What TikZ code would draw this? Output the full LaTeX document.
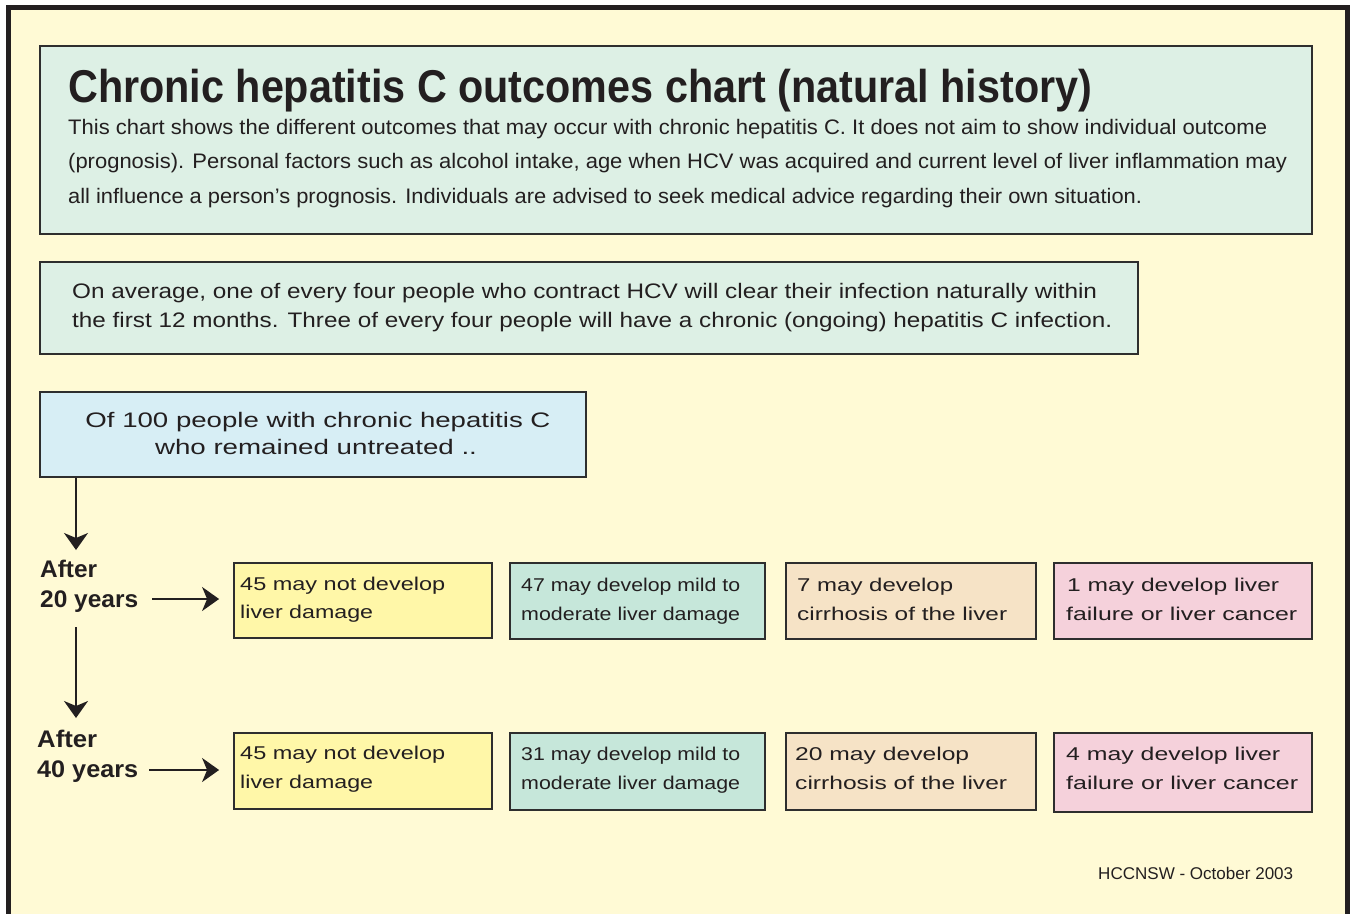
\documentclass[tikz,border=0pt]{standalone}
\usepackage{fontspec}
\setmainfont{Liberation Sans}
\usepackage{graphicx}
\usetikzlibrary{arrows.meta}
\definecolor{bgy}{HTML}{FFFAD5}
\definecolor{mint}{HTML}{DDF0E5}
\definecolor{lblue}{HTML}{D7EEF5}
\definecolor{oyel}{HTML}{FFF7A8}
\definecolor{ogrn}{HTML}{C6E7DA}
\definecolor{otan}{HTML}{F6E3C6}
\definecolor{opnk}{HTML}{F5D1DB}
\definecolor{txtc}{HTML}{231F20}
\definecolor{bordc}{HTML}{2E2E2E}
\newsavebox\fitbox
\newdimen\fitlen
\newcommand\fitto[2]{\sbox\fitbox{#2}\fitlen=\wd\fitbox\pgfmathsetmacro\fitr{#1/\fitlen}\scalebox{\fitr}[1]{\usebox\fitbox}}
\tikzset{
  boxs/.style={draw=bordc, line width=1.8pt, rectangle, inner sep=0pt},
  tl/.style={inner sep=0pt, anchor=base west, text=txtc},
  tc/.style={inner sep=0pt, anchor=base, text=txtc},
  bodyf/.style={font=\fontsize{21}{25}\selectfont},
  outf/.style={font=\fontsize{18.5}{22}\selectfont},
  lblf/.style={font=\fontsize{24}{28}\selectfont\bfseries},
  arr/.style={draw=txtc, line width=2pt, -{Stealth[length=17pt,width=24pt,inset=5pt]}}
}
\begin{document}
\begin{tikzpicture}[x=1pt,y=-1pt]
\useasboundingbox (0,0) rectangle (1352,913);
\clip (0,0) rectangle (1352,913);
\fill[white] (0,0) rectangle (1352,913);
% outer frame
\draw[line width=5pt, draw=txtc, fill=bgy] (8.5,7.5) rectangle (1347.5,960);

% title box
\node[boxs, fill=mint, minimum width=1272pt, minimum height=188pt] (title) at (676,140) {};
\node[tl, font=\fontsize{46}{50}\selectfont\bfseries] (ttl) at (68,102) {\fitto{1024}{Chronic hepatitis C outcomes chart (natural history)}};
\node[tl, bodyf] (b1) at (68,134) {\fitto{1199}{This chart shows the different outcomes that may occur with chronic hepatitis C. It does not aim to show individual outcome}};
\node[tl, bodyf] (b2) at (68,168) {\fitto{1219}{(prognosis). Personal factors such as alcohol intake, age when HCV was acquired and current level of liver inflammation may}};
\node[tl, bodyf] (b3) at (68,203) {\fitto{1074}{all influence a person’s prognosis. Individuals are advised to seek medical advice regarding their own situation.}};

% average box
\node[boxs, fill=mint, minimum width=1098pt, minimum height=92pt] (avg) at (589,308) {};
\node[tl, bodyf] (v1t) at (72,298) {\fitto{1025}{On average, one of every four people who contract HCV will clear their infection naturally within}};
\node[tl, bodyf] (v2t) at (72,327) {\fitto{1040}{the first 12 months. Three of every four people will have a chronic (ongoing) hepatitis C infection.}};

% of 100 box
\node[boxs, fill=lblue, minimum width=546pt, minimum height=85pt] (box3) at (313,434.5) {};
\node[tc, bodyf] (c1) at (318,427) {\fitto{465}{Of 100 people with chronic hepatitis C}};
\node[tc, bodyf] (c2) at (316,454) {\fitto{322}{who remained untreated ..}};

% row 1 boxes
\node[boxs, fill=oyel, minimum width=258pt, minimum height=75pt] (y1) at (363,600.5) {};
\node[boxs, fill=ogrn, minimum width=255pt, minimum height=76pt] (g1) at (637.5,601) {};
\node[boxs, fill=otan, minimum width=250pt, minimum height=76pt] (n1) at (911,601) {};
\node[boxs, fill=opnk, minimum width=258pt, minimum height=76pt] (p1) at (1183,601) {};
\node[tl, outf] (y1a) at (240,590) {\fitto{205}{45 may not develop}};
\node[tl, outf] (y1b) at (240,618) {\fitto{133}{liver damage}};
\node[tl, outf] (g1a) at (521,591) {\fitto{219}{47 may develop mild to}};
\node[tl, outf] (g1b) at (521,620) {\fitto{219}{moderate liver damage}};
\node[tl, outf] (n1a) at (797,591) {\fitto{156}{7 may develop}};
\node[tl, outf] (n1b) at (797,620) {\fitto{210}{cirrhosis of the liver}};
\node[tl, outf] (p1a) at (1067,591) {\fitto{212}{1 may develop liver}};
\node[tl, outf] (p1b) at (1066,620) {\fitto{231}{failure or liver cancer}};

% row 2 boxes
\node[boxs, fill=oyel, minimum width=258pt, minimum height=76pt] (y2) at (363,771) {};
\node[boxs, fill=ogrn, minimum width=255pt, minimum height=77pt] (g2) at (637.5,771.5) {};
\node[boxs, fill=otan, minimum width=250pt, minimum height=77pt] (n2) at (911,771.5) {};
\node[boxs, fill=opnk, minimum width=258pt, minimum height=79pt] (p2) at (1183,772.5) {};
\node[tl, outf] (y2a) at (240,759) {\fitto{205}{45 may not develop}};
\node[tl, outf] (y2b) at (240,788) {\fitto{133}{liver damage}};
\node[tl, outf] (g2a) at (521,760) {\fitto{219}{31 may develop mild to}};
\node[tl, outf] (g2b) at (521,789) {\fitto{219}{moderate liver damage}};
\node[tl, outf] (n2a) at (795,760) {\fitto{174}{20 may develop}};
\node[tl, outf] (n2b) at (795,789) {\fitto{212}{cirrhosis of the liver}};
\node[tl, outf] (p2a) at (1066,760) {\fitto{214}{4 may develop liver}};
\node[tl, outf] (p2b) at (1066,789) {\fitto{232}{failure or liver cancer}};

% labels
\node[tl, lblf] (a20) at (40,577) {\fitto{57}{After}};
\node[tl, lblf] (l20) at (40,607) {\fitto{98}{20 years}};
\node[tl, lblf] (a40) at (37,747) {\fitto{60}{After}};
\node[tl, lblf] (l40) at (37,777) {\fitto{101}{40 years}};

% arrows
\coordinate (v1e) at (76,550);
\draw[arr] (box3.south -| v1e) -- (v1e);
\coordinate (h1s) at (152,599);
\draw[arr, shorten >=14pt] (h1s) -- (h1s -| y1.west);
\coordinate (v2s) at (76,627);
\coordinate (v2e) at (76,718);
\draw[arr] (v2s) -- (v2e);
\coordinate (h2s) at (149,770);
\draw[arr, shorten >=14pt] (h2s) -- (h2s -| y2.west);

% footer
\node[tl, font=\fontsize{17}{20}\selectfont] (foot) at (1098,879) {\fitto{195}{HCCNSW - October 2003}};
\end{tikzpicture}
\end{document}
